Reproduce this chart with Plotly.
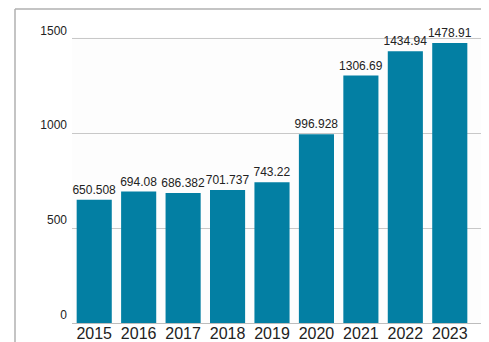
import plotly.graph_objects as go

years = ["2015", "2016", "2017", "2018", "2019", "2020", "2021", "2022", "2023"]
values = [650.508, 694.08, 686.382, 701.737, 743.22, 996.928, 1306.69, 1434.94, 1478.91]
value_labels = ["650.508", "694.08", "686.382", "701.737", "743.22", "996.928", "1306.69", "1434.94", "1478.91"]
y_ticks = [0, 500, 1000, 1500]

fig = go.Figure(go.Bar(
    x=years, y=values, text=value_labels, textposition="outside",
    constraintext="none",
    textfont=dict(size=12, color="#222222", family="Liberation Sans, Arial"),
    marker=dict(color="#037fa3", line=dict(width=0)),
    cliponaxis=False,
))

# page body has an 8px default margin, so the figure is offset by 8px
W, H = 481, 334
l, r, t, b = 64, 5, 29, 19
pw, ph = W - l - r, H - t - b
fx, fy = 7, 1  # frame position in figure pixels

fig.update_layout(
    width=W, height=H,
    margin=dict(l=l, r=r, t=t, b=b, pad=0),
    paper_bgcolor="white", plot_bgcolor="#fdfdfd",
    bargap=0.21, showlegend=False,
    font=dict(family="Liberation Sans, Arial", color="#222222"),
    xaxis=dict(type="category", range=[-0.5, 8.77], showgrid=False,
               showline=True, linecolor="#bdbdbd", linewidth=1,
               automargin=False, ticklabelstandoff=-4,
               ticks="", tickfont=dict(size=16, color="#222222")),
    yaxis=dict(range=[0, 1510], tickvals=y_ticks, showgrid=True,
               gridcolor="#c8c8c8", gridwidth=1, zeroline=False,
               showline=False, ticks="", ticklabelposition="outside top",
               ticklabelstandoff=4, automargin=False,
               tickfont=dict(size=12, color="#222222")),
    shapes=[
        dict(type="line", xref="paper", yref="paper",
             x0=(fx - l) / pw, x1=(W - l) / pw,
             y0=(H - b - fy) / ph, y1=(H - b - fy) / ph,
             line=dict(color="#b0b0b0", width=1.5)),
        dict(type="line", xref="paper", yref="paper",
             x0=(fx - l) / pw, x1=(fx - l) / pw,
             y0=(H - b - fy) / ph, y1=-b / ph,
             line=dict(color="#b0b0b0", width=1.5)),
    ],
)

fig.write_html("out.html")
